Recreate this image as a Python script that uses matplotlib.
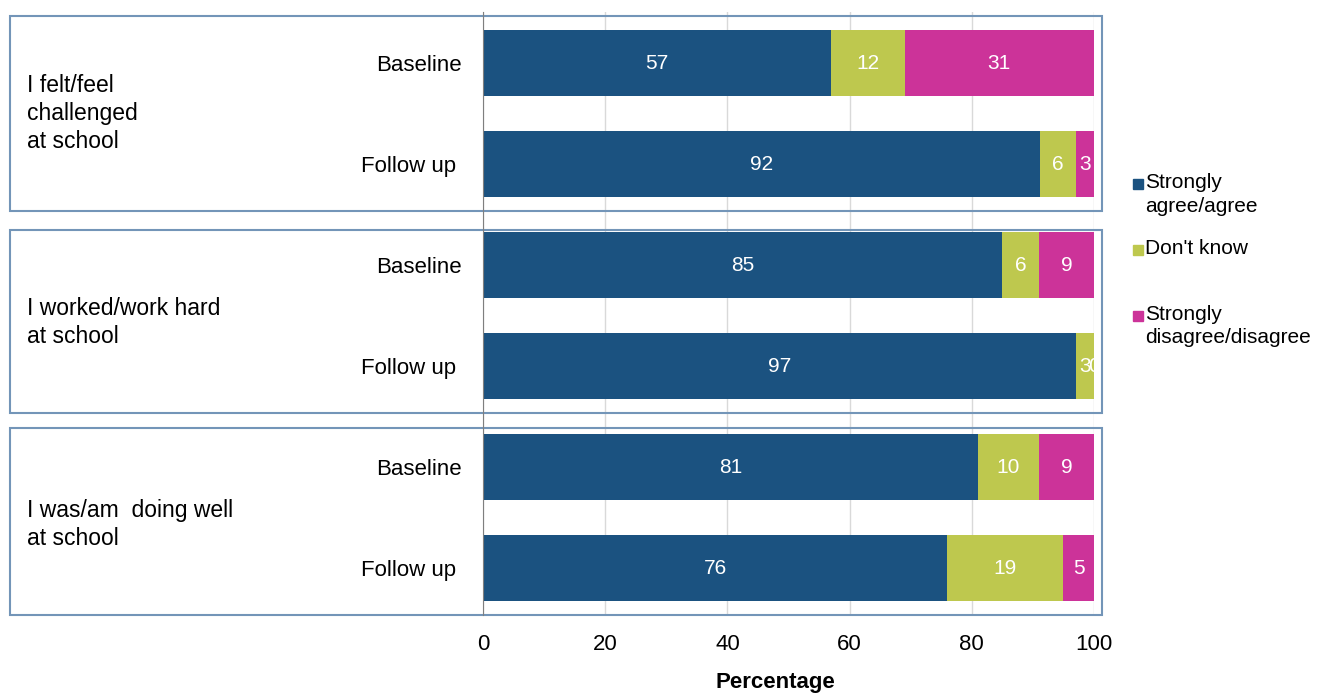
import numpy as np
import matplotlib
matplotlib.use("Agg")
import matplotlib.pyplot as plt
from matplotlib.patches import Rectangle
from matplotlib.transforms import blended_transform_factory

plt.rcParams['font.family'] = ['Liberation Sans', 'DejaVu Sans']

# data (labels as printed; bars scaled to 100%)
groups = ["I felt/feel\nchallenged\nat school",
          "I worked/work hard\nat school",
          "I was/am  doing well\nat school"]
waves = ["Baseline", "Follow up "]
series = ["Strongly\nagree/agree", "Don't know", "Strongly\ndisagree/disagree"]
colors = ["#1b5280", "#bec84e", "#cc3399"]
agree = [57, 92, 85, 97, 81, 76]
dontknow = [12, 6, 6, 3, 10, 19]
disagree = [31, 3, 9, 0, 9, 5]

vals = np.array([agree, dontknow, disagree], dtype=float)
shares = vals / vals.sum(axis=0) * 100
ypos = np.arange(len(agree))

fig = plt.figure(figsize=(13.2, 6.95), dpi=100)
ax = fig.add_axes([483/1320, 80/695, 611/1320, 603/695])

left = np.zeros(len(agree))
for i in range(3):
    ax.barh(ypos, shares[i], left=left, height=0.66, color=colors[i], zorder=3)
    for y, l, w, v in zip(ypos, left, shares[i], vals[i]):
        ax.text(l + w / 2, y, "%d" % v, color="white", ha="center", va="center",
                fontsize=15, zorder=4)
    left += shares[i]

ax.set_xlim(0, 100)
ax.set_ylim(5.465, -0.505)
ax.set_xticks([0, 20, 40, 60, 80, 100])
ax.set_yticks(ypos)
ax.set_yticklabels(waves * len(groups))
ax.tick_params(axis="y", length=0, pad=15, labelsize=16)
ax.tick_params(axis="x", length=0, pad=14, labelsize=16)
ax.grid(axis="x", color="#d9d9d9", linewidth=1, zorder=0)
for s in ["top", "right", "bottom"]:
    ax.spines[s].set_visible(False)
ax.spines["left"].set_color("#7f7f7f")
ax.spines["left"].set_zorder(5)
ax.set_xlabel("Percentage", fontsize=16, fontweight="bold", labelpad=16)
ax.xaxis.set_label_coords(0.478, -0.095)

# group boxes and labels
tr = blended_transform_factory(fig.transFigure, ax.transData)
box_x0, box_x1 = 10/1320, 1102/1320
box_spans = [(-0.47, 1.465), (1.65, 3.47), (3.61, 5.465)]
for g, name in enumerate(groups):
    y0, y1 = box_spans[g]
    ax.add_patch(Rectangle((box_x0, y0), box_x1 - box_x0, y1 - y0, transform=tr,
                           fill=False, edgecolor="#7395b8", linewidth=1.5,
                           clip_on=False, zorder=2))
    off = 0.0 if name.count("\n") == 2 else 0.07
    ax.text(27/1320, 2 * g + 0.5 + off, name, transform=tr, ha="left", va="center",
            fontsize=16.5, linespacing=1.28)

# legend
for i, (name, c) in enumerate(zip(series, colors)):
    ytop = 1 - (173 + 66 * i) / 695
    fig.patches.append(Rectangle((1133/1320, ytop - 16/695), 10/1320, 10/695,
                                 transform=fig.transFigure, color=c))
    fig.text(1145/1320, ytop, name, ha="left", va="top", fontsize=15,
             linespacing=1.3)

fig.savefig("out.png", dpi=100)
